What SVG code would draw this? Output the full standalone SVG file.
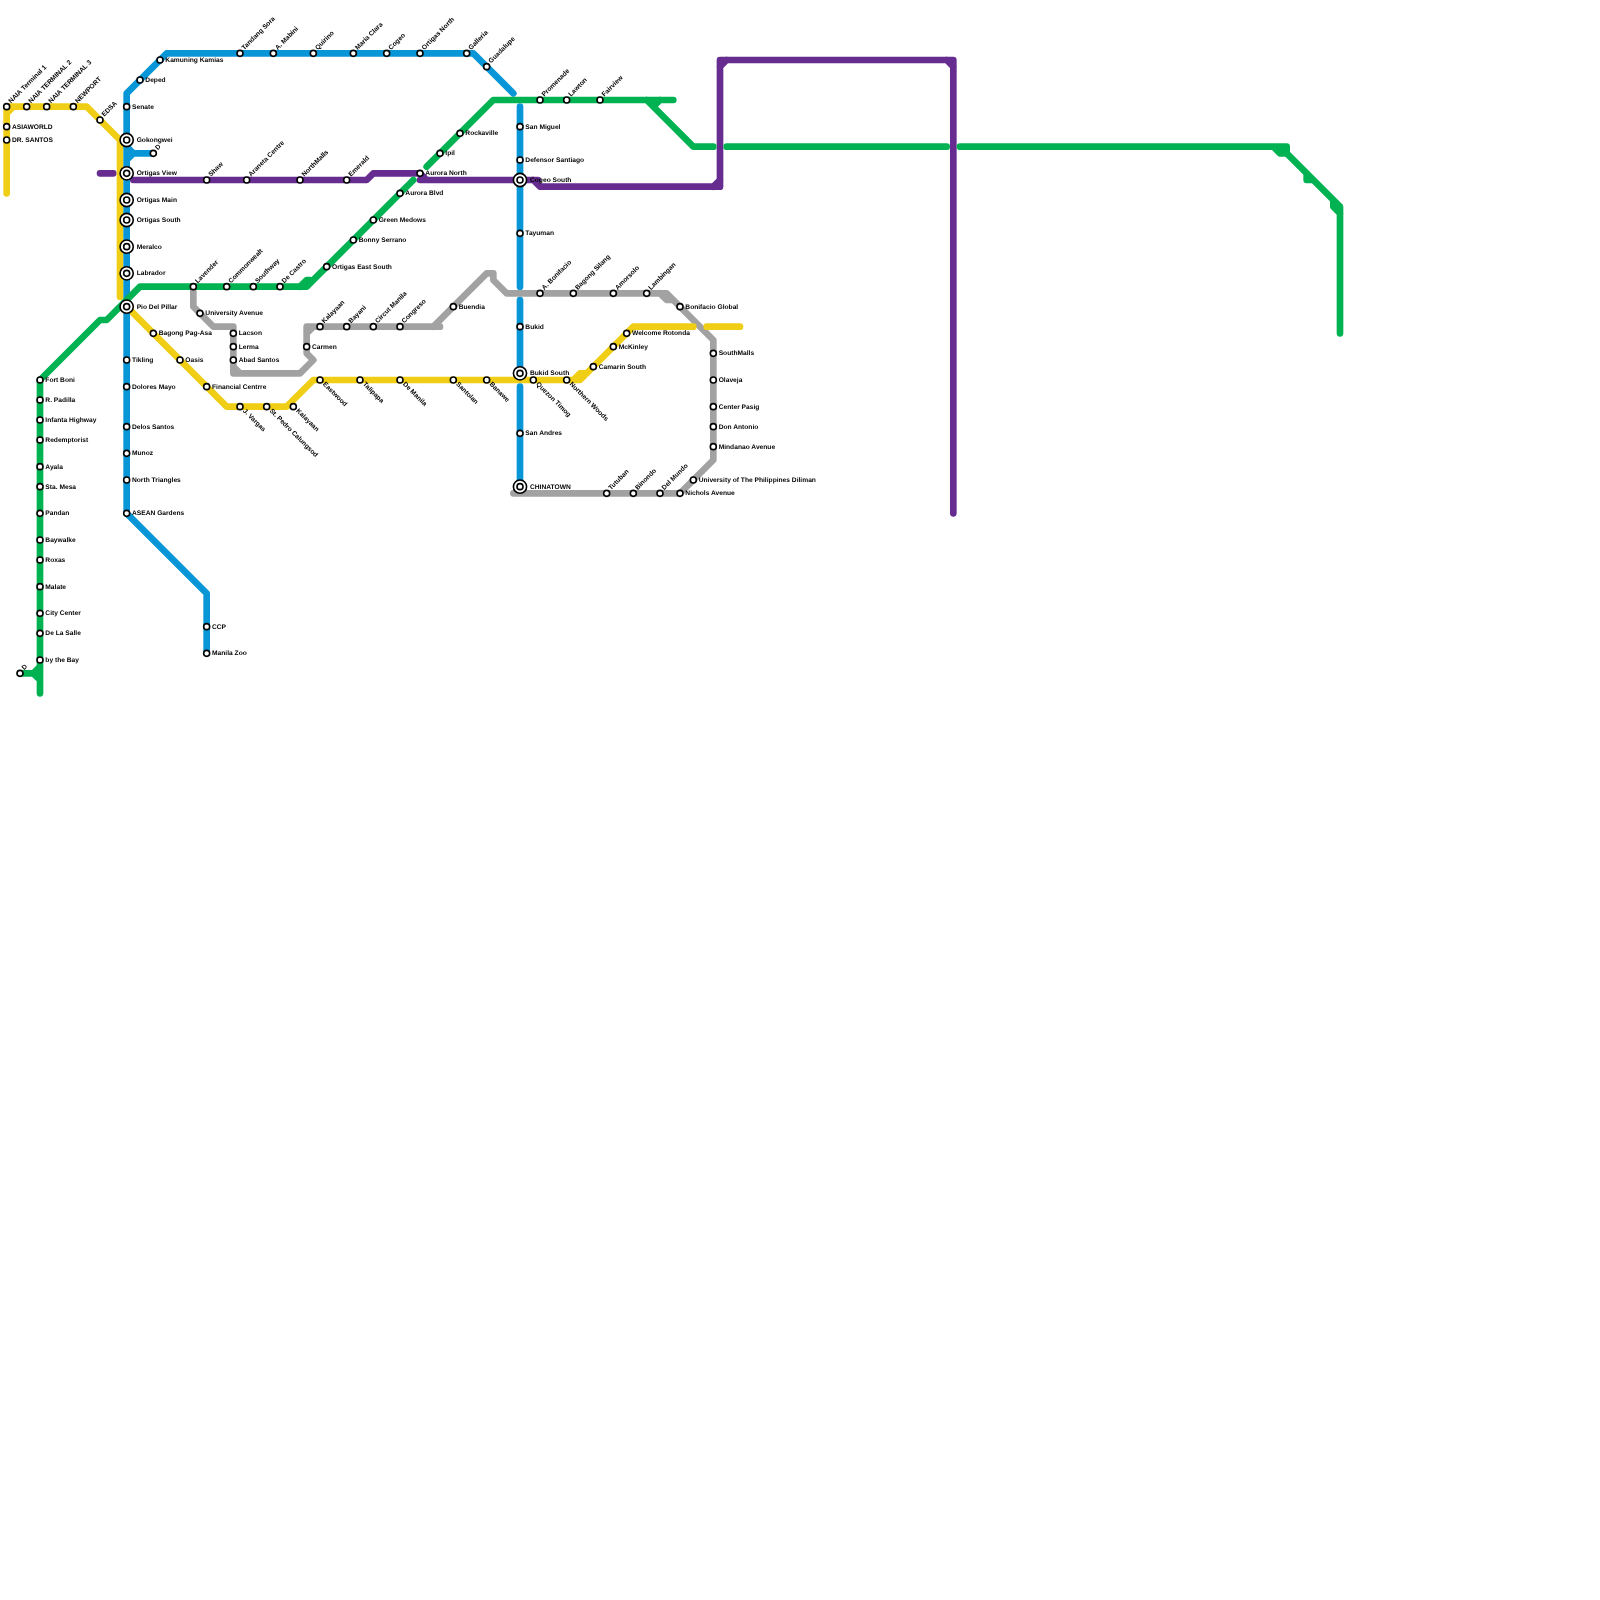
<svg xmlns="http://www.w3.org/2000/svg" width="1600" height="1600" viewBox="0 0 1600 1600">
<style>
rect.bg{fill:#fff}
#connectors path{fill:none;stroke-width:6.67;stroke-linecap:round;stroke-linejoin:round}
.yellow{stroke:#f0ce15}.blue{stroke:#0896d7}.green{stroke:#00b251}.purple{stroke:#662c90}.gray{stroke:#a2a2a2}
#nodes{opacity:.999}
circle{fill:#fff;stroke:#000;stroke-width:1.6}
text{font-family:"Liberation Sans",Arial,Helvetica,sans-serif;font-weight:700;font-size:6.67px;fill:#000;text-rendering:geometricPrecision}
</style>
<rect class="bg" width="1600" height="1600"/>
<g id="connectors">
<path class="purple" d="M100 173.33H113.33M133.33 180H366.67L373.33 173.33H420L426.67 180H520H538M420 180H426.67M533.33 180L540 186.67H720V60H953.33V513.33M713.33 186.67L720 180M720 66.67L726.67 60M946.67 60L953.33 66.67"/>
<path class="gray" d="M193.33 286.67V306.67L213.33 326.67H233.33V373.33H300L313.33 360L306.67 353.33V326.67H440M306.67 333.33L313.33 326.67M233.33 366.67L240 373.33M433.33 326.67L486.67 273.33H493.33V280L506.67 293.33H666.67L713.33 340V460L680 493.33H513.33M660 293.33L666.67 300H673.33"/>
<path class="yellow" d="M6.67 193.33V106.67H86.67L120 140V296.67M6.67 113.33L13.33 106.67M126.67 306.67L226.67 406.67H286.67L313.33 380H580L633.33 326.67H693.33M706.67 326.67H740M573.33 380L580 373.33H586.67"/>
<path class="blue" d="M126.67 513.33V93.33L166.67 53.33H473.33L513.33 93.33M126.67 146.67L133.33 153.33H153.33M126.67 160L133.33 153.33M126.67 513.33L206.67 593.33V653.33M520 106.67V286.67M520 300V373.33M520 386.67V486.67"/>
<path class="green" d="M40 693.33V380L100 320H106.67L140 286.67H306.67L413.33 180M20 673.33H33.33L40 680M33.33 673.33L40 666.67M300 286.67L306.67 280H310M426.67 166.67L493.33 100H673.33M646.67 100L693.33 146.67H713.33M653.33 106.67L660 100M726.67 146.67H946.67M960 146.67H1286.67V153.33H1280L1273.33 146.67M1280 146.67L1340 206.67V333.33M1306.67 173.33V180H1313.33M1333.33 200V206.67L1340 213.33"/>
</g>
<g id="nodes">
<g id="naia-terminal-1"><circle cx="6.67" cy="106.67" r="3"/><text x="11" y="103.5" transform="rotate(-45 11 103.5)">NAIA Terminal 1</text></g>
<g id="naia-terminal-2"><circle cx="26.67" cy="106.67" r="3"/><text x="31" y="103.5" transform="rotate(-45 31 103.5)">NAIA TERMINAL 2</text></g>
<g id="naia-terminal-3"><circle cx="46.67" cy="106.67" r="3"/><text x="51" y="103.5" transform="rotate(-45 51 103.5)">NAIA TERMINAL 3</text></g>
<g id="newport"><circle cx="73.33" cy="106.67" r="3"/><text x="77.67" y="103.5" transform="rotate(-45 77.67 103.5)">NEWPORT</text></g>
<g id="edsa"><circle cx="100" cy="120" r="3"/><text x="104.33" y="116.83" transform="rotate(-45 104.33 116.83)">EDSA</text></g>
<g id="asiaworld"><circle cx="6.67" cy="126.67" r="3"/><text x="12" y="128.5">ASIAWORLD</text></g>
<g id="dr-santos"><circle cx="6.67" cy="140" r="3"/><text x="12" y="141.83">DR. SANTOS</text></g>
<g id="senate"><circle cx="126.67" cy="106.67" r="3"/><text x="132" y="108.5">Senate</text></g>
<g id="deped"><circle cx="140" cy="80" r="3"/><text x="145.33" y="81.83">Deped</text></g>
<g id="kamuning-kamias"><circle cx="160" cy="60" r="3"/><text x="165.33" y="61.83">Kamuning Kamias</text></g>
<g id="tandang-sora"><circle cx="240" cy="53.33" r="3"/><text x="244.33" y="50.17" transform="rotate(-45 244.33 50.17)">Tandang Sora</text></g>
<g id="a-mabini"><circle cx="273.33" cy="53.33" r="3"/><text x="277.67" y="50.17" transform="rotate(-45 277.67 50.17)">A. Mabini</text></g>
<g id="quirino"><circle cx="313.33" cy="53.33" r="3"/><text x="317.67" y="50.17" transform="rotate(-45 317.67 50.17)">Quirino</text></g>
<g id="maria-clara"><circle cx="353.33" cy="53.33" r="3"/><text x="357.67" y="50.17" transform="rotate(-45 357.67 50.17)">Maria Clara</text></g>
<g id="cogeo"><circle cx="386.67" cy="53.33" r="3"/><text x="391" y="50.17" transform="rotate(-45 391 50.17)">Cogeo</text></g>
<g id="ortigas-north"><circle cx="420" cy="53.33" r="3"/><text x="424.33" y="50.17" transform="rotate(-45 424.33 50.17)">Ortigas North</text></g>
<g id="galleria"><circle cx="466.67" cy="53.33" r="3"/><text x="471" y="50.17" transform="rotate(-45 471 50.17)">Galleria</text></g>
<g id="guadalupe"><circle cx="486.67" cy="66.67" r="3"/><text x="491" y="63.5" transform="rotate(-45 491 63.5)">Guadalupe</text></g>
<g id="d-blue"><circle cx="153.33" cy="153.33" r="3"/><text x="157.67" y="150.17" transform="rotate(-45 157.67 150.17)">D</text></g>
<g id="tikling"><circle cx="126.67" cy="360" r="3"/><text x="132" y="361.83">Tikling</text></g>
<g id="dolores-mayo"><circle cx="126.67" cy="386.67" r="3"/><text x="132" y="388.5">Dolores Mayo</text></g>
<g id="delos-santos"><circle cx="126.67" cy="426.67" r="3"/><text x="132" y="428.5">Delos Santos</text></g>
<g id="munoz"><circle cx="126.67" cy="453.33" r="3"/><text x="132" y="455.17">Munoz</text></g>
<g id="north-triangles"><circle cx="126.67" cy="480" r="3"/><text x="132" y="481.83">North Triangles</text></g>
<g id="asean-gardens"><circle cx="126.67" cy="513.33" r="3"/><text x="132" y="515.17">ASEAN Gardens</text></g>
<g id="ccp"><circle cx="206.67" cy="626.67" r="3"/><text x="212" y="628.5">CCP</text></g>
<g id="manila-zoo"><circle cx="206.67" cy="653.33" r="3"/><text x="212" y="655.17">Manila Zoo</text></g>
<g id="san-miguel"><circle cx="520" cy="126.67" r="3"/><text x="525.33" y="128.5">San Miguel</text></g>
<g id="defensor-santiago"><circle cx="520" cy="160" r="3"/><text x="525.33" y="161.83">Defensor Santiago</text></g>
<g id="tayuman"><circle cx="520" cy="233.33" r="3"/><text x="525.33" y="235.17">Tayuman</text></g>
<g id="bukid"><circle cx="520" cy="326.67" r="3"/><text x="525.33" y="328.5">Bukid</text></g>
<g id="san-andres"><circle cx="520" cy="433.33" r="3"/><text x="525.33" y="435.17">San Andres</text></g>
<g id="shaw"><circle cx="206.67" cy="180" r="3"/><text x="211" y="176.83" transform="rotate(-45 211 176.83)">Shaw</text></g>
<g id="araneta-centre"><circle cx="246.67" cy="180" r="3"/><text x="251" y="176.83" transform="rotate(-45 251 176.83)">Araneta Centre</text></g>
<g id="northmalls"><circle cx="300" cy="180" r="3"/><text x="304.33" y="176.83" transform="rotate(-45 304.33 176.83)">NorthMalls</text></g>
<g id="emerald"><circle cx="346.67" cy="180" r="3"/><text x="351" y="176.83" transform="rotate(-45 351 176.83)">Emerald</text></g>
<g id="aurora-north"><circle cx="420" cy="173.33" r="3"/><text x="425.33" y="175.17">Aurora North</text></g>
<g id="lavender"><circle cx="193.33" cy="286.67" r="3"/><text x="197.67" y="283.5" transform="rotate(-45 197.67 283.5)">Lavender</text></g>
<g id="commonwealt"><circle cx="226.67" cy="286.67" r="3"/><text x="231" y="283.5" transform="rotate(-45 231 283.5)">Commonwealt</text></g>
<g id="southway"><circle cx="253.33" cy="286.67" r="3"/><text x="257.67" y="283.5" transform="rotate(-45 257.67 283.5)">Southway</text></g>
<g id="de-castro"><circle cx="280" cy="286.67" r="3"/><text x="284.33" y="283.5" transform="rotate(-45 284.33 283.5)">De Castro</text></g>
<g id="ortigas-east-south"><circle cx="326.67" cy="266.67" r="3"/><text x="332" y="268.5">Ortigas East South</text></g>
<g id="bonny-serrano"><circle cx="353.33" cy="240" r="3"/><text x="358.67" y="241.83">Bonny Serrano</text></g>
<g id="green-medows"><circle cx="373.33" cy="220" r="3"/><text x="378.67" y="221.83">Green Medows</text></g>
<g id="aurora-blvd"><circle cx="400" cy="193.33" r="3"/><text x="405.33" y="195.17">Aurora Blvd</text></g>
<g id="ipil"><circle cx="440" cy="153.33" r="3"/><text x="445.33" y="155.17">Ipil</text></g>
<g id="rockaville"><circle cx="460" cy="133.33" r="3"/><text x="465.33" y="135.17">Rockaville</text></g>
<g id="promenade"><circle cx="540" cy="100" r="3"/><text x="544.33" y="96.83" transform="rotate(-45 544.33 96.83)">Promenade</text></g>
<g id="lawton"><circle cx="566.67" cy="100" r="3"/><text x="571" y="96.83" transform="rotate(-45 571 96.83)">Lawton</text></g>
<g id="fairview"><circle cx="600" cy="100" r="3"/><text x="604.33" y="96.83" transform="rotate(-45 604.33 96.83)">Fairview</text></g>
<g id="fort-boni"><circle cx="40" cy="380" r="3"/><text x="45.33" y="381.83">Fort Boni</text></g>
<g id="r-padilla"><circle cx="40" cy="400" r="3"/><text x="45.33" y="401.83">R. Padilla</text></g>
<g id="infanta-highway"><circle cx="40" cy="420" r="3"/><text x="45.33" y="421.83">Infanta Highway</text></g>
<g id="redemptorist"><circle cx="40" cy="440" r="3"/><text x="45.33" y="441.83">Redemptorist</text></g>
<g id="ayala"><circle cx="40" cy="466.67" r="3"/><text x="45.33" y="468.5">Ayala</text></g>
<g id="sta-mesa"><circle cx="40" cy="486.67" r="3"/><text x="45.33" y="488.5">Sta. Mesa</text></g>
<g id="pandan"><circle cx="40" cy="513.33" r="3"/><text x="45.33" y="515.17">Pandan</text></g>
<g id="baywalke"><circle cx="40" cy="540" r="3"/><text x="45.33" y="541.83">Baywalke</text></g>
<g id="roxas"><circle cx="40" cy="560" r="3"/><text x="45.33" y="561.83">Roxas</text></g>
<g id="malate"><circle cx="40" cy="586.67" r="3"/><text x="45.33" y="588.5">Malate</text></g>
<g id="city-center"><circle cx="40" cy="613.33" r="3"/><text x="45.33" y="615.17">City Center</text></g>
<g id="de-la-salle"><circle cx="40" cy="633.33" r="3"/><text x="45.33" y="635.17">De La Salle</text></g>
<g id="by-the-bay"><circle cx="40" cy="660" r="3"/><text x="45.33" y="661.83">by the Bay</text></g>
<g id="d-green"><circle cx="20" cy="673.33" r="3"/><text x="24.33" y="670.17" transform="rotate(-45 24.33 670.17)">D</text></g>
<g id="university-avenue"><circle cx="200" cy="313.33" r="3"/><text x="205.33" y="315.17">University Avenue</text></g>
<g id="lacson"><circle cx="233.33" cy="333.33" r="3"/><text x="238.67" y="335.17">Lacson</text></g>
<g id="lerma"><circle cx="233.33" cy="346.67" r="3"/><text x="238.67" y="348.5">Lerma</text></g>
<g id="abad-santos"><circle cx="233.33" cy="360" r="3"/><text x="238.67" y="361.83">Abad Santos</text></g>
<g id="carmen"><circle cx="306.67" cy="346.67" r="3"/><text x="312" y="348.5">Carmen</text></g>
<g id="kalayaan-gray"><circle cx="320" cy="326.67" r="3"/><text x="324.33" y="323.5" transform="rotate(-45 324.33 323.5)">Kalayaan</text></g>
<g id="bayani"><circle cx="346.67" cy="326.67" r="3"/><text x="351" y="323.5" transform="rotate(-45 351 323.5)">Bayani</text></g>
<g id="circut-manila"><circle cx="373.33" cy="326.67" r="3"/><text x="377.67" y="323.5" transform="rotate(-45 377.67 323.5)">Circut Manila</text></g>
<g id="congreso"><circle cx="400" cy="326.67" r="3"/><text x="404.33" y="323.5" transform="rotate(-45 404.33 323.5)">Congreso</text></g>
<g id="buendia"><circle cx="453.33" cy="306.67" r="3"/><text x="458.67" y="308.5">Buendia</text></g>
<g id="a-bonifacio"><circle cx="540" cy="293.33" r="3"/><text x="544.33" y="290.17" transform="rotate(-45 544.33 290.17)">A. Bonifacio</text></g>
<g id="bagong-silang"><circle cx="573.33" cy="293.33" r="3"/><text x="577.67" y="290.17" transform="rotate(-45 577.67 290.17)">Bagong Silang</text></g>
<g id="amorsolo"><circle cx="613.33" cy="293.33" r="3"/><text x="617.67" y="290.17" transform="rotate(-45 617.67 290.17)">Amorsolo</text></g>
<g id="lambingan"><circle cx="646.67" cy="293.33" r="3"/><text x="651" y="290.17" transform="rotate(-45 651 290.17)">Lambingan</text></g>
<g id="bonifacio-global"><circle cx="680" cy="306.67" r="3"/><text x="685.33" y="308.5">Bonifacio Global</text></g>
<g id="southmalls"><circle cx="713.33" cy="353.33" r="3"/><text x="718.67" y="355.17">SouthMalls</text></g>
<g id="olaveja"><circle cx="713.33" cy="380" r="3"/><text x="718.67" y="381.83">Olaveja</text></g>
<g id="center-pasig"><circle cx="713.33" cy="406.67" r="3"/><text x="718.67" y="408.5">Center Pasig</text></g>
<g id="don-antonio"><circle cx="713.33" cy="426.67" r="3"/><text x="718.67" y="428.5">Don Antonio</text></g>
<g id="mindanao-avenue"><circle cx="713.33" cy="446.67" r="3"/><text x="718.67" y="448.5">Mindanao Avenue</text></g>
<g id="up-diliman"><circle cx="693.33" cy="480" r="3"/><text x="698.67" y="481.83">University of The Philippines Diliman</text></g>
<g id="nichols-avenue"><circle cx="680" cy="493.33" r="3"/><text x="685.33" y="495.17">Nichols Avenue</text></g>
<g id="tutuban"><circle cx="606.67" cy="493.33" r="3"/><text x="611" y="490.17" transform="rotate(-45 611 490.17)">Tutuban</text></g>
<g id="binondo"><circle cx="633.33" cy="493.33" r="3"/><text x="637.67" y="490.17" transform="rotate(-45 637.67 490.17)">Binondo</text></g>
<g id="del-mundo"><circle cx="660" cy="493.33" r="3"/><text x="664.33" y="490.17" transform="rotate(-45 664.33 490.17)">Del Mundo</text></g>
<g id="bagong-pag-asa"><circle cx="153.33" cy="333.33" r="3"/><text x="158.67" y="335.17">Bagong Pag-Asa</text></g>
<g id="oasis"><circle cx="180" cy="360" r="3"/><text x="185.33" y="361.83">Oasis</text></g>
<g id="financial-centrre"><circle cx="206.67" cy="386.67" r="3"/><text x="212" y="388.5">Financial Centrre</text></g>
<g id="j-vargas"><circle cx="240" cy="406.67" r="3"/><text x="242.5" y="411.2" transform="rotate(45 242.5 411.2)">J. Vargas</text></g>
<g id="st-pedro-calungsod"><circle cx="266.67" cy="406.67" r="3"/><text x="269.17" y="411.2" transform="rotate(45 269.17 411.2)">St. Pedro Calungsod</text></g>
<g id="kalayaan-yellow"><circle cx="293.33" cy="406.67" r="3"/><text x="295.83" y="411.2" transform="rotate(45 295.83 411.2)">Kalayaan</text></g>
<g id="eastwood"><circle cx="320" cy="380" r="3"/><text x="322.5" y="384.53" transform="rotate(45 322.5 384.53)">Eastwood</text></g>
<g id="talipapa"><circle cx="360" cy="380" r="3"/><text x="362.5" y="384.53" transform="rotate(45 362.5 384.53)">Talipapa</text></g>
<g id="de-manila"><circle cx="400" cy="380" r="3"/><text x="402.5" y="384.53" transform="rotate(45 402.5 384.53)">De Manila</text></g>
<g id="santolan"><circle cx="453.33" cy="380" r="3"/><text x="455.83" y="384.53" transform="rotate(45 455.83 384.53)">Santolan</text></g>
<g id="banawe"><circle cx="486.67" cy="380" r="3"/><text x="489.17" y="384.53" transform="rotate(45 489.17 384.53)">Banawe</text></g>
<g id="quezon-timog"><circle cx="533.33" cy="380" r="3"/><text x="535.83" y="384.53" transform="rotate(45 535.83 384.53)">Quezon Timog</text></g>
<g id="northern-woods"><circle cx="566.67" cy="380" r="3"/><text x="569.17" y="384.53" transform="rotate(45 569.17 384.53)">Northern Woods</text></g>
<g id="camarin-south"><circle cx="593.33" cy="366.67" r="3"/><text x="598.67" y="368.5">Camarin South</text></g>
<g id="mckinley"><circle cx="613.33" cy="346.67" r="3"/><text x="618.67" y="348.5">McKinley</text></g>
<g id="welcome-rotonda"><circle cx="626.67" cy="333.33" r="3"/><text x="632" y="335.17">Welcome Rotonda</text></g>
<g id="gokongwei"><circle cx="126.67" cy="140" r="6.6"/><circle cx="126.67" cy="140" r="3"/><text x="136.67" y="141.83">Gokongwei</text></g>
<g id="ortigas-view"><circle cx="126.67" cy="173.33" r="6.6"/><circle cx="126.67" cy="173.33" r="3"/><text x="136.67" y="175.17">Ortigas View</text></g>
<g id="ortigas-main"><circle cx="126.67" cy="200" r="6.6"/><circle cx="126.67" cy="200" r="3"/><text x="136.67" y="201.83">Ortigas Main</text></g>
<g id="ortigas-south"><circle cx="126.67" cy="220" r="6.6"/><circle cx="126.67" cy="220" r="3"/><text x="136.67" y="221.83">Ortigas South</text></g>
<g id="meralco"><circle cx="126.67" cy="246.67" r="6.6"/><circle cx="126.67" cy="246.67" r="3"/><text x="136.67" y="248.5">Meralco</text></g>
<g id="labrador"><circle cx="126.67" cy="273.33" r="6.6"/><circle cx="126.67" cy="273.33" r="3"/><text x="136.67" y="275.17">Labrador</text></g>
<g id="pio-del-pillar"><circle cx="126.67" cy="306.67" r="6.6"/><circle cx="126.67" cy="306.67" r="3"/><text x="136.67" y="308.5">Pio Del Pillar</text></g>
<g id="cogeo-south"><circle cx="520" cy="180" r="6.6"/><circle cx="520" cy="180" r="3"/><text x="530" y="181.83">Cogeo South</text></g>
<g id="bukid-south"><circle cx="520" cy="373.33" r="6.6"/><circle cx="520" cy="373.33" r="3"/><text x="530" y="375.17">Bukid South</text></g>
<g id="chinatown"><circle cx="520" cy="486.67" r="6.6"/><circle cx="520" cy="486.67" r="3"/><text x="530" y="488.5">CHINATOWN</text></g>
</g>
</svg>
